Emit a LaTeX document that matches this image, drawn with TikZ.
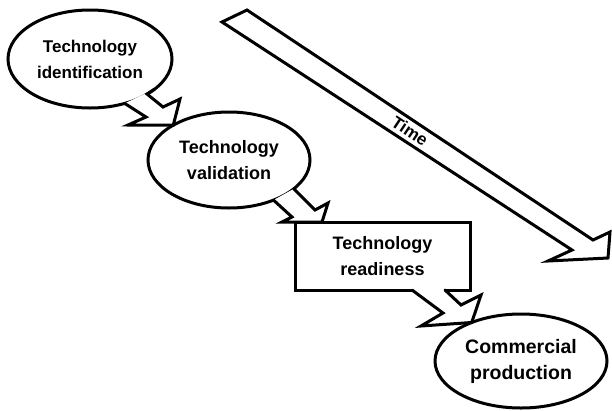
\documentclass[tikz,border=0pt]{standalone}
\usepackage{fontspec}
\setmainfont{Liberation Sans}
\usetikzlibrary{shapes.geometric}

\begin{document}
\begin{tikzpicture}[
        x=1pt, y=-1pt,
        line width=3pt,
        stagefont/.style={font=\bfseries\fontsize{#1}{26}\selectfont},
        bubble/.style={ellipse, draw, fill=white, inner sep=0pt, outer sep=0pt, align=center},
        panel/.style={rectangle, draw, fill=white, inner sep=0pt, outer sep=0pt, align=center},
        bolt/.style={draw, line join=miter, line cap=round}
    ]
        \useasboundingbox (0,0) rectangle (612,410);

        % the time arrow
        \draw [line join=miter] (222,22) -- (247,10) -- (593,240) -- (610,232) -- (608,258) -- (548,261) -- (572,250) -- cycle;
        \node (timelabel) [stagefont=17, rotate=-33.6] at (410,131) {Time};

        % stages
        \node (ident) [bubble, stagefont=17, minimum width=164, minimum height=98] at (90,59) {Technology\\identification};
        \node (valid) [bubble, stagefont=18, minimum width=162, minimum height=96] at (229,160) {Technology\\validation};
        \node (ready) [panel, stagefont=18, minimum width=175, minimum height=68] at (382.5,256) {Technology\\readiness};
        \node (prod) [bubble, stagefont=19.5, minimum width=172, minimum height=94] at (521,361) {Commercial\\production};

        % bolts: white fill first (opens the mouth), then the outline
        \fill [white] (ident.-52) -- (146,117) -- (128,125) -- (valid.148) -- (180,99) -- (163,107) -- (147,94) -- (ident.-25) -- cycle;
        \draw [bolt] (ident.-52) -- (146,117) -- (128,125) -- (valid.148) -- (180,99) -- (163,107) -- (147,94) -- (ident.-25);

        \fill [white] (valid.-42) -- (292,217) -- ([xshift=-13pt]ready.north west) -- ([xshift=27pt]ready.north west) -- (328,203) -- (315,210) -- (valid.-24) -- cycle;
        \draw [bolt] (valid.-42) -- (292,217) -- ([xshift=-13pt]ready.north west) -- ([xshift=27pt]ready.north west) -- (328,203) -- (315,210) -- (valid.-24);

        \fill [white] ([xshift=29.5pt, yshift=4pt]ready.south) -- ([xshift=29.5pt]ready.south) -- (443,313) -- (421,326) -- (prod.142) -- (481,295) -- (461,305) -- ([xshift=62.5pt]ready.south) -- ([xshift=62.5pt, yshift=4pt]ready.south) -- cycle;
        \draw [bolt] ([xshift=29.5pt]ready.south) -- (443,313) -- (421,326) -- (prod.142) -- (481,295) -- (461,305) -- ([xshift=62.5pt]ready.south);
    \end{tikzpicture}
\end{document}
